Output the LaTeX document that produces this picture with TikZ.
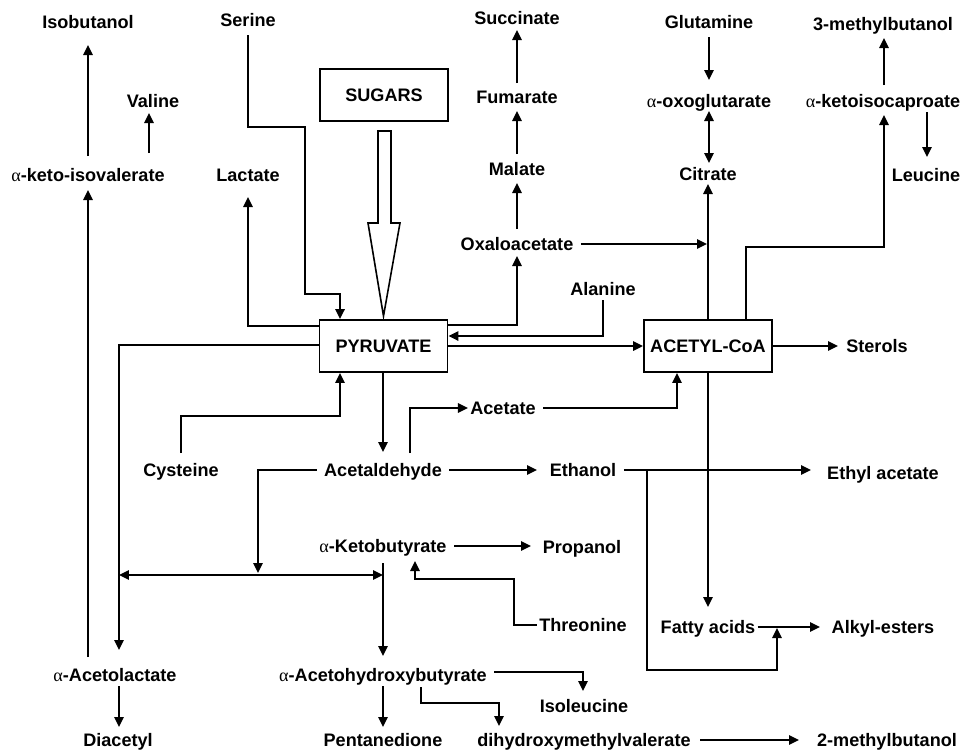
\documentclass[tikz,border=0pt]{standalone}
\usepackage{fontspec}
\setmainfont{Liberation Sans}
\newfontfamily\grk{Liberation Serif}
\usetikzlibrary{arrows.meta,calc}
\newcommand{\al}{{\grk\mdseries α}}
\begin{document}
\begin{tikzpicture}[x=0.02cm,y=-0.02cm,
  t/.style={inner sep=0.04cm, text height=7.5pt, text depth=0pt, font=\fontsize{10.3}{12}\selectfont\bfseries},
  box/.style={draw, line width=1.1pt, inner sep=0pt, minimum width=2.56cm, minimum height=1.04cm, font=\fontsize{10.3}{12}\selectfont\bfseries},
  arr/.style={line width=0.9pt, -{Triangle[length=2mm,width=1.9mm]}},
  arrb/.style={line width=0.9pt, {Triangle[length=2mm,width=1.9mm]}-{Triangle[length=2mm,width=1.9mm]}},
  gap/.style={shorten <=3pt}]
\useasboundingbox (0,0) rectangle (963,751);
% nodes
\node[t] (iso) at (88,22) {Isobutanol};
\node[t] (ser) at (248,20) {Serine};
\node[t] (suc) at (517,18) {Succinate};
\node[t] (glu) at (709,22) {Glutamine};
\node[t] (mb3) at (883,24) {3-methylbutanol};
\node[t] (val) at (153,101) {Valine};
\node[box] (sug) at (384,95) {SUGARS};
\node[t] (fum) at (517,97) {Fumarate};
\node[t] (oxg) at (709,101) {\al-oxoglutarate};
\node[t] (kic) at (883,101) {\al-ketoisocaproate};
\node[t] (kiv) at (88,175) {\al-keto-isovalerate};
\node[t] (lac) at (248,175) {Lactate};
\node[t] (mal) at (517,169) {Malate};
\node[t] (cit) at (708,174) {Citrate};
\node[t] (leu) at (926,175) {Leucine};
\node[t] (oxa) at (517,244) {Oxaloacetate};
\node[t] (ala) at (603,289) {Alanine};
\node[box] (pyr) at (383.5,346) {PYRUVATE};
\node[box] (aco) at (708,346) {ACETYL-CoA};
\node[t] (ste) at (877,346) {Sterols};
\node[t] (act) at (503,408) {Acetate};
\node[t] (cys) at (181,470) {Cysteine};
\node[t] (acd) at (383,470) {Acetaldehyde};
\node[t] (eth) at (583,470) {Ethanol};
\node[t] (eta) at (883,473) {Ethyl acetate};
\node[t] (kbu) at (383,546) {\al-Ketobutyrate};
\node[t] (pro) at (582,547) {Propanol};
\node[t] (thr) at (583,625) {Threonine};
\node[t] (fat) at (708,627) {Fatty acids};
\node[t] (alk) at (883,627) {Alkyl-esters};
\node[t] (acl) at (115,675) {\al-Acetolactate};
\node[t] (ahb) at (383,675) {\al-Acetohydroxybutyrate};
\node[t] (ile) at (584,706) {Isoleucine};
\node[t] (dia) at (118,740) {Diacetyl};
\node[t] (pen) at (383,740) {Pentanedione};
\node[t] (dhm) at (584,740) {dihydroxymethylvalerate};
\node[t] (mb2) at (887,740) {2-methylbutanol};
% left column
\draw[arr] (kiv |- 0,156) -- (iso |- 0,45);
\draw[arr] ($(val |- 0,153)+(-4,0)$) -- ($(val |- 0,113)+(-4,0)$);
\draw[arr] (kiv |- 0,657) -- (kiv |- 0,190);
% serine
\draw[arr] (ser |- 0,35) -- (ser |- 0,127) -- (305,127) -- (305,294) -- (340,294) -- (340,0 |- pyr.north);
% sugars hollow arrow
\draw[line width=0.9pt, fill=white] ($(sug.south)+(-6,9)$) -- ++(13,0) -- ++(0,92) -- ++(9,0) -- ($(pyr.north)+(0,-3)$) -- (368,223) -- ++(10,0) -- cycle;
% pyruvate left
\draw[arr] (pyr.west |- 0,326) -- (lac |- 0,326) -- (lac |- 0,197);
\draw[arr] (pyr.west |- 0,345) -- (119,345) -- (119,650);
\draw[arr] (cys |- 0,453) -- (cys |- 0,416) -- (340,416) -- (340,0 |- pyr.south);
% pyruvate down
\draw[arr] (pyr.south -| acd) -- (acd |- 0,452);
\draw[arr] (410,453) -- (410,408) -- (act.west);
\draw[arr, gap] (act.east) -- (677,408) -- (677,0 |- aco.south);
\draw[arr, gap] (acd.east) -- (537,0 |- acd);
\draw[arr, gap] (acd.west) -- (258,0 |- acd) -- (258,573);
\draw[arrb] (119,575) -- (383,575);
\draw[arr] (kbu |- 0,563) -- (kbu |- 0,656);
\draw[arr, gap] (kbu.east) -- (531,0 |- kbu);
\draw[arr] (thr.west) -- (514,0 |- thr) -- (514,579) -- (415,579) -- (415,561);
\draw[arr] (119,686) -- (119,727);
\draw[arr] (ahb |- 0,686) -- (ahb |- 0,727);
\draw[arr, gap] (ahb.east |- 0,672) -- (583,672) -- (583,691);
\draw[arr] (421,687) -- (421,703) -- (499,703) -- (499,726);
\draw[arr, shorten <=4pt] (dhm.east) -- (799,0 |- dhm);
% ethanol
\draw[arr, gap] (eth.east) -- (811,0 |- eth);
\draw[arr] (647,0 |- eth) -- (647,670) -- (777,670) -- (777,628);
\draw[arr] (fat.east) -- (820,0 |- fat);
% acetyl-coa
\draw[arr] (aco.south) -- (aco.south |- 0,607);
\draw[arr] (aco.east) -- (838,0 |- aco);
\draw[arr] (pyr.east |- 0,346) -- (aco.west);
\draw[arr] (ala |- 0,300) -- (ala |- 0,336) -- (pyr.east |- 0,336);
\draw[arr] (pyr.east |- 0,325) -- (oxa |- 0,325) -- (oxa |- 0,256);
\draw[arr] (oxa |- 0,229) -- (mal |- 0,183);
\draw[arr] (mal |- 0,154) -- (fum |- 0,111);
\draw[arr] (fum |- 0,83) -- (suc |- 0,30);
\draw[arr, gap] (oxa.east) -- (707,0 |- oxa);
\draw[arr] (aco.north) -- (aco.north |- 0,184);
\draw[arr] (glu |- 0,37) -- (glu |- 0,80);
\draw[arrb] (oxg |- 0,111) -- (oxg |- 0,163);
\draw[arr] (746,0 |- aco.north) -- (746,247) -- (884,247) -- (884,115);
\draw[arr] (884,85) -- (884,38);
\draw[arr] (927,112) -- (927,157);
\end{tikzpicture}
\end{document}
